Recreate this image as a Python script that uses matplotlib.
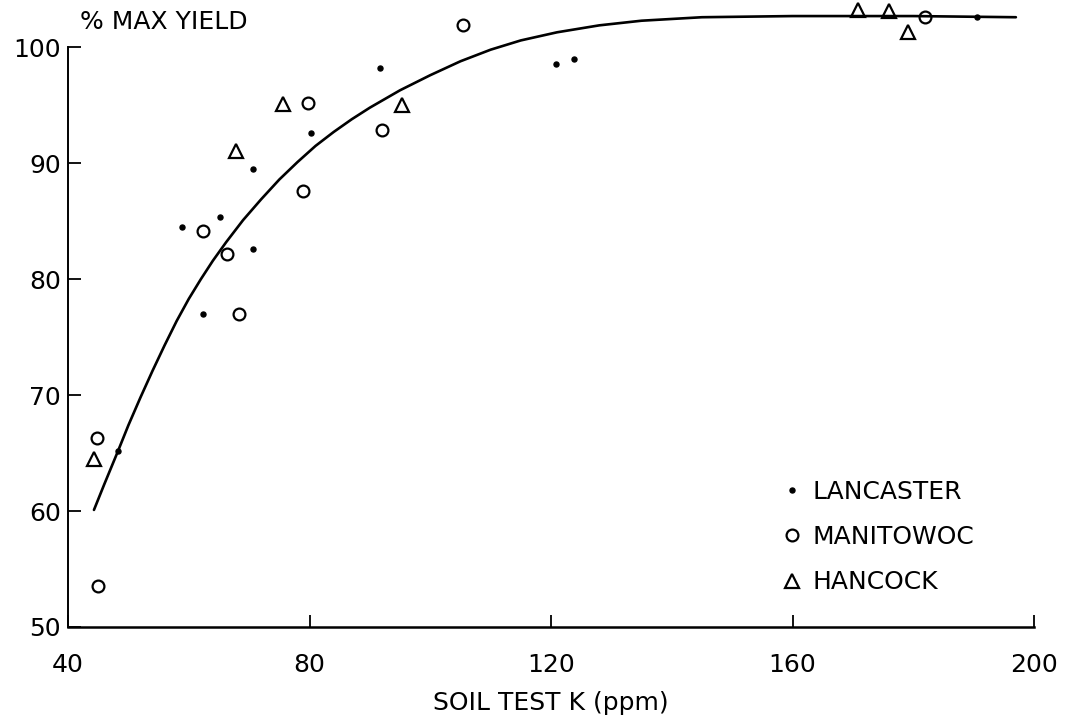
import matplotlib
matplotlib.use('Agg')
import matplotlib.pyplot as plt
from matplotlib.lines import Line2D

# --- data ---
lancaster_k = [48.3, 58.8, 65.1, 70.7, 70.6, 62.3, 80.3, 91.6, 120.9, 123.8, 190.6]
lancaster_y = [65.2, 84.5, 85.4, 89.5, 82.6, 77.0, 92.6, 98.2, 98.6, 99.0, 102.6]

manitowoc_k = [44.8, 45.0, 62.4, 66.3, 68.4, 79.0, 79.7, 92.0, 105.5, 181.9]
manitowoc_y = [66.3, 53.5, 84.2, 82.2, 77.0, 87.6, 95.2, 92.9, 101.9, 102.6]

hancock_k = [44.3, 67.9, 75.6, 95.4, 170.9, 176.0, 179.2]
hancock_y = [64.5, 91.1, 95.1, 95.0, 103.2, 103.1, 101.3]

# response curve
curve_k = [44.3, 46.0, 48.3, 50.0, 52.0, 54.0, 56.0, 58.0, 60.0, 62.0, 64.0,
           66.2, 69.0, 72.0, 75.0, 78.0, 81.0, 84.0, 87.0, 90.0, 95.0, 100.0,
           105.0, 110.0, 115.0, 121.0, 128.0, 135.0, 145.0, 160.0, 180.0, 197.0]
curve_y = [60.1, 62.3, 65.2, 67.4, 69.8, 72.1, 74.3, 76.4, 78.3, 80.0, 81.6,
           83.2, 85.1, 86.9, 88.6, 90.1, 91.5, 92.7, 93.8, 94.8, 96.3, 97.6,
           98.8, 99.8, 100.6, 101.3, 101.9, 102.3, 102.6, 102.7, 102.7, 102.6]

x_ticks = [40, 80, 120, 160, 200]
y_ticks = [50, 60, 70, 80, 90, 100]

plt.rcParams['font.family'] = ['DejaVu Sans']
FS = 18

fig = plt.figure(figsize=(10.65, 7.17), dpi=100)
ax = fig.add_axes([68 / 1065, 90 / 717, (1034 - 68) / 1065, 626 / 717])
ax.set_xlim(40, 200)
ax.set_ylim(50, 104)

# fitted response curve
ax.plot(curve_k, curve_y, color='black', lw=1.9, solid_capstyle='round',
        solid_joinstyle='round')

# observations
ax.plot(lancaster_k, lancaster_y, ls='none', marker='o', ms=3.6,
        color='black', clip_on=False)
ax.plot(manitowoc_k, manitowoc_y, ls='none', marker='o', ms=8.5,
        mfc='none', mec='black', mew=1.6, clip_on=False)
ax.plot(hancock_k, hancock_y, ls='none', marker='^', ms=10,
        mfc='none', mec='black', mew=1.6, clip_on=False)

# axes styling
for s in ['top', 'right']:
    ax.spines[s].set_visible(False)
ax.spines['left'].set_bounds(50, 100)
ax.spines['left'].set_linewidth(1.4)
ax.spines['bottom'].set_linewidth(1.8)
ax.set_xticks(x_ticks)
ax.set_yticks(y_ticks)
ax.tick_params(axis='both', direction='in', length=9, width=1.3,
               labelsize=FS)
ax.tick_params(axis='x', pad=19)
ax.tick_params(axis='y', pad=5)

ax.set_xlabel('SOIL TEST K (ppm)', fontsize=FS, labelpad=10)
fig.text(80 / 1065, 1 - 22 / 717, '% MAX YIELD', fontsize=FS,
         ha='left', va='center')

# legend
handles = [
    Line2D([], [], ls='none', marker='o', ms=3.6, color='black'),
    Line2D([], [], ls='none', marker='o', ms=8.5, mfc='none', mec='black', mew=1.6),
    Line2D([], [], ls='none', marker='^', ms=10, mfc='none', mec='black', mew=1.6),
]
ax.legend(handles, ['LANCASTER', 'MANITOWOC', 'HANCOCK'], frameon=False,
          fontsize=FS, loc='upper left', bbox_to_anchor=(0.716, 0.263),
          handletextpad=0.2, labelspacing=0.85, handlelength=1.2,
          borderpad=0.2)

fig.savefig('out.png', dpi=100, facecolor='white')
